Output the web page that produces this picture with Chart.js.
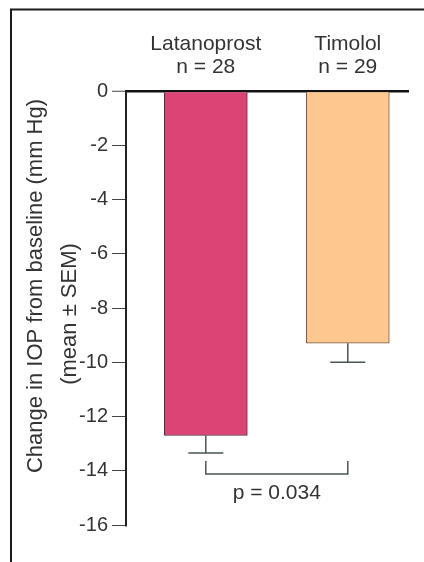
<!DOCTYPE html>
<html>
<head>
<meta charset="utf-8">
<script src="https://cdn.jsdelivr.net/npm/chart.js@4"></script>
<style>
  html, body { margin: 0; padding: 0; background: #fff; }
  #wrap { width: 424px; height: 562px; }
</style>
</head>
<body>
<div id="wrap"><canvas id="iop-chart" width="424" height="562"></canvas></div>
<script>
// data
const categories = ['Latanoprost', 'Timolol'];
const groupSizes = ['n = 28', 'n = 29'];
const meanChange = [-12.7, -9.3];
const semValues = [0.65, 0.7];
const yTickValues = [0, -2, -4, -6, -8, -10, -12, -14, -16];
const pLabel = 'p = 0.034';
const bracketTop = -13.64;
const bracketBottom = -14.12;
const pLabelAt = -14.82;
const yTitleLines = ['Change in IOP from baseline (mm Hg)', '(mean \u00b1 SEM)'];

;(function() {
  const font = '"Liberation Sans", Arial, Helvetica, sans-serif';
  const textColor = '#333';
  const lineColor = '#4a5650';

  // outer frame (left + top edges only are visible)
  const framePlugin = {
    id: 'frame',
    beforeDraw(chart) {
      const c = chart.ctx;
      c.save();
      c.fillStyle = '#fff';
      c.fillRect(0, 0, chart.width, chart.height);
      c.strokeStyle = '#1c1c1c';
      c.lineWidth = 2;
      c.beginPath();
      c.moveTo(11, chart.height);
      c.lineTo(11, 9.5);
      c.lineTo(chart.width, 9.5);
      c.stroke();
      c.restore();
    }
  };

  // one-sided error bars + significance bracket + y title
  const extrasPlugin = {
    id: 'extras',
    afterDatasetsDraw(chart) {
      const c = chart.ctx;
      const x = chart.scales.x;
      const y = chart.scales.y;
      c.save();
      c.strokeStyle = lineColor;
      c.lineWidth = 1.5;
      meanChange.forEach((m, i) => {
        const cx = x.getPixelForValue(i);
        const y0 = y.getPixelForValue(m);
        const y1 = y.getPixelForValue(m - semValues[i]);
        c.beginPath();
        c.moveTo(cx, y0);
        c.lineTo(cx, y1);
        c.moveTo(cx - 17.5, y1);
        c.lineTo(cx + 17.5, y1);
        c.stroke();
      });

      const bx0 = x.getPixelForValue(0);
      const bx1 = x.getPixelForValue(1);
      const by0 = y.getPixelForValue(bracketTop);
      const by1 = y.getPixelForValue(bracketBottom);
      c.beginPath();
      c.moveTo(bx0, by0);
      c.lineTo(bx0, by1);
      c.lineTo(bx1, by1);
      c.lineTo(bx1, by0);
      c.stroke();

      c.fillStyle = textColor;
      c.font = '21px ' + font;
      c.textAlign = 'center';
      c.textBaseline = 'middle';
      c.fillText(pLabel, (bx0 + bx1) / 2, y.getPixelForValue(pLabelAt));

      // rotated y title, two lines
      c.font = '22px ' + font;
      c.save();
      c.translate(36, 286);
      c.rotate(-Math.PI / 2);
      c.fillText(yTitleLines[0], 0, 0);
      c.restore();
      c.save();
      c.translate(70, 314);
      c.rotate(-Math.PI / 2);
      c.fillText(yTitleLines[1], 0, 0);
      c.restore();
      c.restore();
    }
  };

  const ctx = document.getElementById('iop-chart').getContext('2d');

  const chart = new Chart(ctx, {
    type: 'bar',
    data: {
      datasets: [{
        data: meanChange.map((v, i) => ({ x: i, y: v })),
        backgroundColor: ['#db4474', '#fdc890'],
        borderColor: ['#4e2e36', '#7a5646'],
        borderWidth: 1,
        barThickness: 83,
      }]
    },
    options: {
      responsive: false,
      animation: false,
      layout: { padding: { left: 0, top: 0, right: 15, bottom: 37 } },
      plugins: {
        legend: { display: false },
        tooltip: { enabled: false },
      },
      scales: {
        x: {
          type: 'linear',
          position: 'top',
          offset: false,
          min: -0.562,
          max: 1.431,
          afterBuildTicks: scale => { scale.ticks = categories.map((c, i) => ({ value: i })); },
          afterFit: scale => { scale.height = 91; },
          grid: { display: false, offset: false },
          border: { display: false },
          ticks: {
            autoSkip: false,
            maxRotation: 0,
            padding: 4,
            color: textColor,
            font: { family: font, size: 21, lineHeight: 1.1 },
            callback: v => [categories[v], groupSizes[v]],
          },
        },
        y: {
          min: -16,
          max: 0,
          afterBuildTicks: scale => { scale.ticks = yTickValues.map(v => ({ value: v })); },
          afterFit: scale => { scale.width = 126; },
          border: { display: true, color: '#222', width: 2 },
          grid: {
            drawOnChartArea: true,
            drawTicks: true,
            tickLength: 14,
            tickColor: '#444',
            tickWidth: 1,
            color: c => c.tick && c.tick.value === 0 ? '#111' : 'rgba(0,0,0,0)',
            lineWidth: c => c.tick && c.tick.value === 0 ? 2.5 : 1,
          },
          ticks: {
            padding: 4,
            color: textColor,
            font: { family: font, size: 20 },
          },
        },
      },
    },
    plugins: [framePlugin, extrasPlugin],
  });
})();
</script>
</body>
</html>
